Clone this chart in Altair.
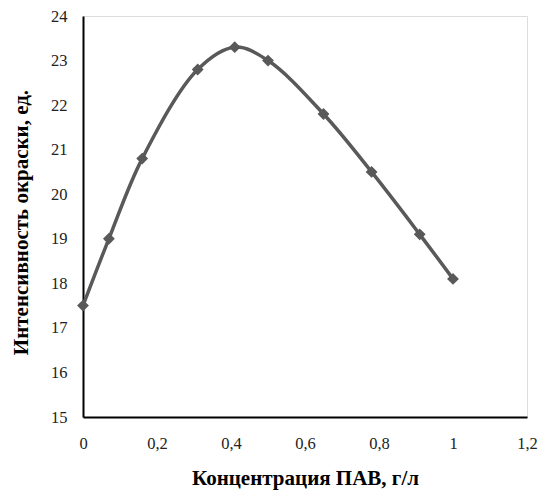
import altair as alt
import pandas as pd

conc = [0, 0.07, 0.16, 0.31, 0.41, 0.5, 0.65, 0.78, 0.91, 1.0]
intensity = [17.5, 19.0, 20.8, 22.8, 23.3, 23.0, 21.8, 20.5, 19.1, 18.1]

df = pd.DataFrame({"x": conc, "y": intensity})

FONT = "Liberation Serif"
GRAY = "#595959"

x_enc = alt.X(
    "x:Q",
    scale=alt.Scale(domain=[0, 1.2], nice=False, zero=False),
    axis=alt.Axis(
        title="Концентрация ПАВ, г/л",
        values=[0, 0.2, 0.4, 0.6, 0.8, 1.0, 1.2],
        labelExpr="replace(format(datum.value, '.1~f'), '.', ',')",
        grid=False, ticks=False, domainColor="black", domainWidth=2,
        labelFlush=False, labelOverlap=False,
        labelFontSize=16.5, labelColor="#222", labelPadding=18,
        titleFontSize=21, titleFontWeight="bold", titleColor="black",
        titlePadding=16,
    ),
)
y_enc = alt.Y(
    "y:Q",
    scale=alt.Scale(domain=[15, 24], nice=False, zero=False),
    axis=alt.Axis(
        title="Интенсивность окраски, ед.",
        values=list(range(15, 25)),
        grid=False, ticks=False, domainColor="black", domainWidth=2,
        labelFlush=False, labelOverlap=False,
        labelFontSize=16.5, labelColor="#222", labelPadding=16,
        titleFontSize=21, titleFontWeight="bold", titleColor="black",
        titlePadding=19, titleY=206,
    ),
)

line = alt.Chart(df).mark_line(
    interpolate="catmull-rom", color=GRAY, strokeWidth=3.5
).encode(x=x_enc, y=y_enc)
pts = alt.Chart(df).mark_point(
    shape="diamond", filled=True, color=GRAY, size=140, opacity=1
).encode(x="x:Q", y="y:Q")

chart = (line + pts).properties(
    width=444, height=401,
    autosize=alt.AutoSizeParams(type="none"),
    padding={"left": 75, "top": 8, "right": 14, "bottom": 82},
).configure_view(stroke=None).configure(font=FONT).configure_axis(
    labelFont=FONT, titleFont=FONT
)

chart.save("out.html", embed_options={"renderer": "svg", "actions": False})
